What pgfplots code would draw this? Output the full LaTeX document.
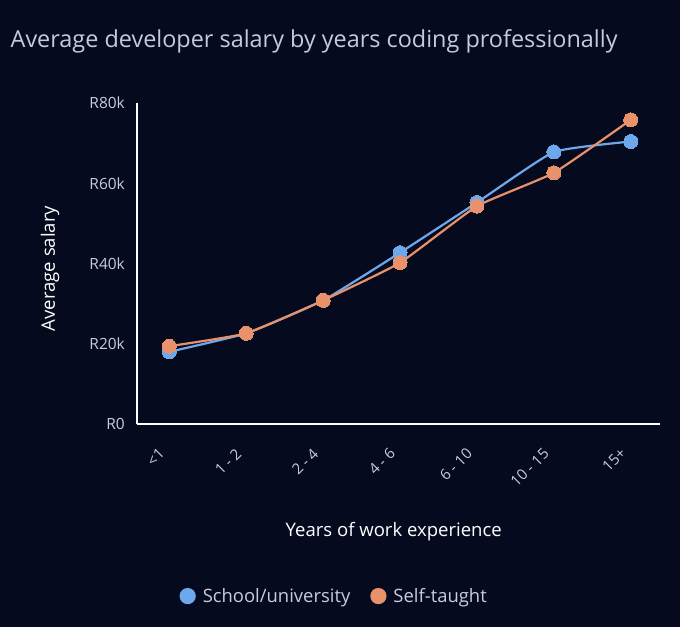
\documentclass[border=0pt]{standalone}
\usepackage{pgfplots}
\pgfplotsset{compat=1.18}
\usepackage{fontspec}
\setmainfont{Open Sans}
\definecolor{bg}{HTML}{050A1F}
\definecolor{sblue}{HTML}{6DA7EC}
\definecolor{sorange}{HTML}{E8916A}
\definecolor{titlec}{HTML}{C7CADF}
\definecolor{tickc}{HTML}{C9CCDE}
\begin{document}
\begin{tikzpicture}
\useasboundingbox (0,0) rectangle (680bp,-627bp);
\fill[bg] (0,0) rectangle (680bp,-627bp);
\node[anchor=base west, text=titlec, font=\fontsize{23.5}{26}\selectfont, inner sep=0pt] at (10.5bp,-47.3bp) {Average developer salary by years coding professionally};
\begin{axis}[
  at={(137bp,-424bp)}, anchor=south west,
  scale only axis, width=523bp, height=321bp,
  xmin=-0.42, xmax=6.38, ymin=0, ymax=80000,
  axis x line*=bottom, axis y line*=left,
  axis line style={white, line width=1.8bp, -},
  xtick={0,...,6}, xticklabels={<1,1 - 2,2 - 4,4 - 6,6 - 10,10 - 15,15+},
  ytick={0,20000,40000,60000,80000},
  yticklabels={R0,R20k,R40k,R60k,R80k},
  major tick length=0pt,
  scaled y ticks=false,
  yticklabel style={text=tickc, font=\fontsize{15.5}{17}\selectfont, anchor=east, inner sep=0pt, xshift=-12bp},
  xticklabel style={text=tickc, font=\fontsize{15}{17}\selectfont, xshift=-7.5bp, yshift=-27bp, rotate=45, anchor=east, inner sep=0pt},
  xlabel={Years of work experience},
  ylabel={Average salary},
  xlabel style={text=white, font=\fontsize{18.6}{21}\selectfont, at={(axis description cs:0.491,-0.336)}, anchor=center},
  ylabel style={text=white, font=\fontsize{18.6}{21}\selectfont, at={(axis description cs:-0.166,0.4844)}, anchor=center, rotate=0},
  legend style={at={(axis description cs:0.377,-0.536)}, anchor=center, draw=none, fill=none, text=tickc, font=\fontsize{18.5}{21}\selectfont, legend columns=2, /tikz/every even column/.append style={column sep=18bp}, /tikz/every odd column/.append style={column sep=5bp}, inner sep=0pt},
  legend cell align=left,
  legend image code/.code={\fill[#1] (0bp,0bp) circle (7bp);},
  clip=false,
]
\addplot[sblue, line width=2.2bp, smooth, tension=0.25, mark=*, mark size=7bp, mark options={fill=sblue, draw=sblue, line width=0pt}] coordinates {
(0,18000) (1,22600) (2,30800) (3,42700) (4,55200) (5,67800) (6,70400)};
\addlegendentry{School/university}
\addplot[sorange, line width=2.2bp, smooth, tension=0.25, mark=*, mark size=7bp, mark options={fill=sorange, draw=sorange, line width=0pt}] coordinates {
(0,19400) (1,22600) (2,30800) (3,40200) (4,54300) (5,62600) (6,75800)};
\addlegendentry{Self-taught}
\end{axis}
\end{tikzpicture}
\end{document}
